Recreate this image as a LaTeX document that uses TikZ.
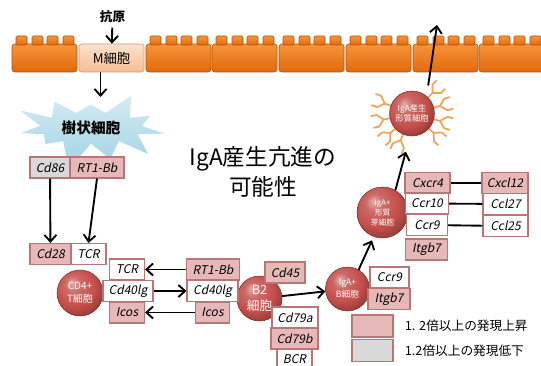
\documentclass[tikz,border=0pt]{standalone}
\usepackage{fontspec}
\setmainfont{Noto Sans CJK JP}
\newfontfamily\genefont{Noto Sans CJK JP}[FakeSlant=0.2]
\usetikzlibrary{arrows.meta,shapes.symbols}

\definecolor{brick}{RGB}{226,106,12}
\definecolor{bricklight}{RGB}{246,148,58}
\definecolor{brickdark}{RGB}{180,80,8}
\definecolor{mcell}{RGB}{246,190,145}
\definecolor{upfill}{RGB}{230,185,184}
\definecolor{downfill}{RGB}{217,217,217}
\definecolor{boxline}{RGB}{185,118,118}
\definecolor{cellred}{RGB}{196,78,74}
\definecolor{antibody}{RGB}{244,160,86}
\definecolor{dcblue}{RGB}{160,210,228}

% red cell body, lit from the upper left
\pgfdeclareradialshading{redcell}{\pgfpoint{-9bp}{11bp}}{%
  color(0bp)=(cellred!45!white); color(9bp)=(cellred!85!white);
  color(22bp)=(cellred); color(30bp)=(cellred!80!black); color(60bp)=(cellred!70!black)}

\begin{document}
\begin{tikzpicture}[x=0.75pt, y=-0.75pt,
    gene/.style={draw=boxline, line width=0.8pt, minimum height=15.75pt, inner sep=0pt,
      font=\genefont\fontsize{9}{10}\selectfont},
    upbox/.style={gene, fill=upfill, minimum width=#1*0.75pt},
    downbox/.style={gene, fill=downfill, minimum width=#1*0.75pt},
    flatbox/.style={gene, fill=white, minimum width=#1*0.75pt},
    cell/.style={circle, draw=cellred!60!black, line width=0.4pt, shading=redcell,
      text=white, inner sep=0pt, align=center, minimum size=#1*0.75pt},
    arr/.style={-{Straight Barb[length=5pt,width=9pt]}, line width=1.4pt},
    bind/.style={line width=1.4pt}]

  \clip (0,0) rectangle (541,366);

  % epithelium
  \foreach \l in {12,146,212,279,346,413,479} {
    \draw[brickdark, top color=bricklight, bottom color=brick, rounded corners=2pt] (\l,44) rectangle ++(65,28);
    \foreach \s in {4,20,35,51}
      \draw[brickdark, top color=bricklight, bottom color=brick, rounded corners=1pt] (\l+\s,36) rectangle ++(11,9);
  }
  \node[draw=brickdark!60, top color=mcell!45!white, bottom color=mcell, rounded corners=2pt,
    minimum width=65*0.75pt, minimum height=28*0.75pt, font=\fontsize{10}{12}\selectfont] (mcell) at (111.5,58) {M細胞};
  \node[font=\bfseries\fontsize{9.5}{11}\selectfont] (antigen) at (112.5,17) {抗原};
  \draw[arr] (antigen) -- (mcell);

  % dendritic cell
  \node[starburst, starburst points=11, starburst point height=22pt, random starburst=23,
    minimum width=122pt, minimum height=44pt, draw=white, top color=white!55!dcblue, bottom color=dcblue,
    font=\bfseries\fontsize{11}{12}\selectfont] (dc) at (91,128) {樹状細胞};
  \coordinate (dctop) at (100.5,97);
  \draw[arr] (mcell.south -| dctop) -- (dctop);

  \node[downbox=40] (cd86) at (50,167.5) {Cd86};
  \node[upbox=54] (dcrt) at (97,167.5) {RT1-Bb};

  % T cell
  \node[cell=46, font=\fontsize{7.5}{10}\selectfont] (cd4) at (80,293) {CD4+\\T細胞};
  \node[upbox=41] (cd28) at (50.5,254) {Cd28};
  \node[flatbox=35] (tcr) at (88.5,254) {TCR};
  \node[flatbox=35] (ttcr) at (127,269.5) {TCR};
  \node[flatbox=50] (tcd40) at (128,291) {Cd40lg};
  \node[upbox=35] (ticos) at (127,312.5) {Icos};
  \draw[arr] (cd86) -- (cd28);
  \draw[arr] (dcrt.south) -- (tcr.north);

  % B2 cell
  \node[cell=45, font=\fontsize{9.5}{12}\selectfont] (b2) at (259.5,298.5) {B2\\細胞};
  \node[upbox=53] (brt) at (213,269.5) {RT1-Bb};
  \node[flatbox=51] (bcd40) at (212.5,291) {Cd40lg};
  \node[upbox=34] (bicos) at (212.5,312.5) {Icos};
  \node[upbox=40] (cd45) at (285,272.5) {Cd45};
  \node[flatbox=46] (cd79a) at (295,317.5) {Cd79a};
  \node[upbox=47] (cd79b) at (294.5,338.5) {Cd79b};
  \node[flatbox=35] (bcr) at (294.5,359.5) {BCR};
  \draw[arr] (brt) -- (ttcr);
  \draw[arr] (tcd40) -- (bcd40);
  \draw[arr] (bicos) -- (ticos);

  % IgA+ B cell
  \node[cell=44, font=\fontsize{6.5}{9}\selectfont] (igab) at (347.5,289) {IgA+\\B細胞};
  \node[flatbox=39] (bccr9) at (389.5,277.5) {Ccr9};
  \node[upbox=42] (bitgb7) at (389,299) {Itgb7};
  \draw[arr] (b2) -- (igab);

  % plasmablast
  \node[cell=51, font=\fontsize{5.8}{7.5}\selectfont] (pb) at (382.5,212.5) {IgA+\\形質\\芽細胞};
  \node[upbox=45] (cxcr4) at (427.5,183) {Cxcr4};
  \node[flatbox=43] (ccr10) at (427,203.5) {Ccr10};
  \node[flatbox=41] (ccr9) at (427,225) {Ccr9};
  \node[upbox=42] (itgb7) at (426.5,249.5) {Itgb7};
  \node[upbox=46] (cxcl12) at (505,183) {Cxcl12};
  \node[flatbox=45] (ccl27) at (505.5,204) {Ccl27};
  \node[flatbox=45] (ccl25) at (505.5,226) {Ccl25};
  \draw[bind] (cxcr4) -- (cxcl12);
  \draw[bind] (ccr10) -- (ccl27);
  \draw[bind] (ccr9) -- (ccl25);
  \draw[arr, shorten >=3pt] (igab.60) -- (pb.250);

  % plasma cell with antibodies
  \foreach \a in {15,45,160,192,222,247,318,345}
    \draw[antibody, line width=1.3pt, line join=round, shift={(412,113.5)}, rotate=\a]
      (21,0) -- (29,0) (41,6) -- (35,6) -- (29,0) -- (35,-6) -- (41,-6);
  \node[cell=45, font=\fontsize{6.2}{8}\selectfont] (pc) at (412,113.5) {IgA産生\\形質細胞};
  \draw[arr, shorten >=12pt] (pb.60) -- (pc.265);
  \coordinate (lumen) at (437,25);
  \draw[arr, shorten <=8pt] (pc.50) -- (lumen);

  \node[align=center, font=\fontsize{17}{23}\selectfont] (title) at (263,172) {IgA産生亢進の\\可能性};

  % legend
  \node[upbox=41, minimum height=16.5pt] (legup) at (372.5,326) {};
  \node[downbox=41, minimum height=16pt] (legdown) at (372.5,350.5) {};
  \node[anchor=west, font=\fontsize{9.5}{11}\selectfont] at ([xshift=5pt]legup.east) {1. 2倍以上の発現上昇};
  \node[anchor=west, font=\fontsize{9.5}{11}\selectfont] at ([xshift=5pt]legdown.east) {1.2倍以上の発現低下};
\end{tikzpicture}
\end{document}
